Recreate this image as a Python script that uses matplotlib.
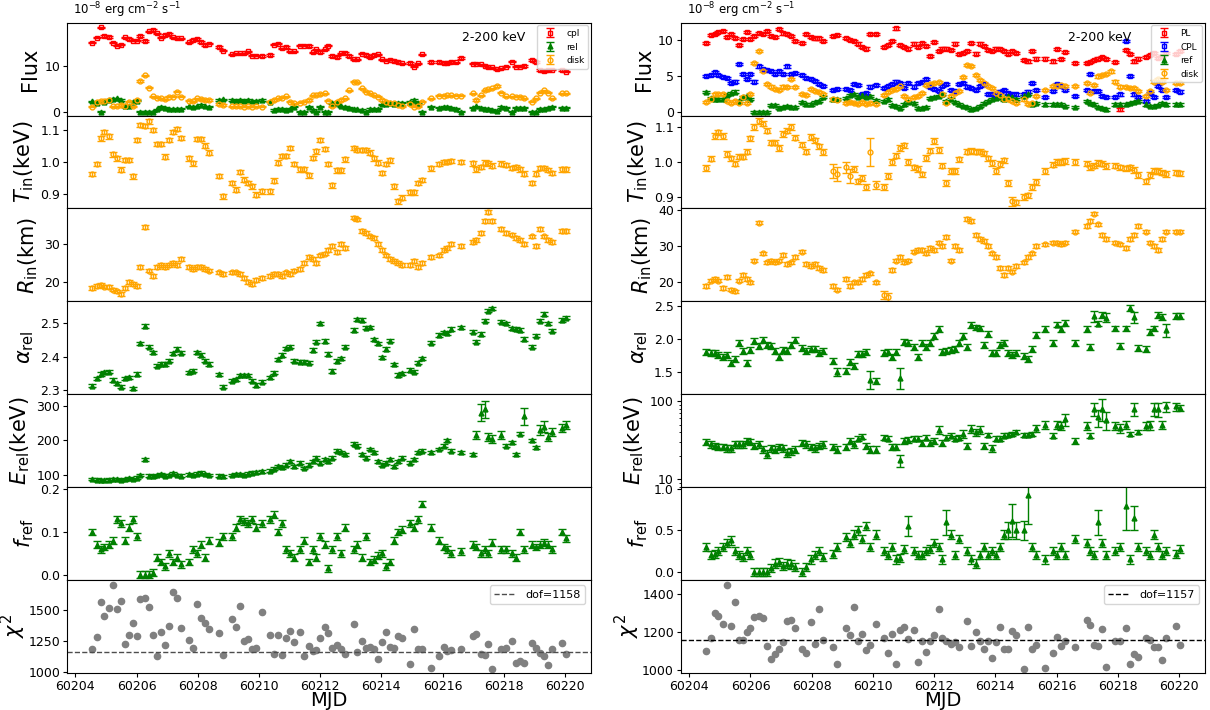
import numpy as np
import matplotlib
matplotlib.use("Agg")
import matplotlib.pyplot as plt
from matplotlib.ticker import FixedLocator, ScalarFormatter, FixedFormatter

nan = np.nan

mjd = [60204.55,60204.70,60204.83,60204.95,60205.09,60205.23,60205.35,60205.48,60205.61,60205.75,
       60205.88,60206.00,60206.13,60206.28,60206.40,60206.53,60206.67,60206.79,60206.93,60207.05,
       60207.19,60207.32,60207.45,60207.70,60207.83,60207.98,60208.11,60208.24,60208.37,60208.69,
       60208.84,60209.11,60209.24,60209.37,60209.51,60209.64,60209.77,60209.89,60210.09,60210.36,
       60210.48,60210.62,60210.76,60210.88,60211.02,60211.16,60211.35,60211.48,60211.62,60211.75,
       60211.88,60212.01,60212.15,60212.27,60212.40,60212.55,60212.69,60212.81,60212.95,60213.09,
       60213.21,60213.36,60213.49,60213.62,60213.75,60213.89,60214.01,60214.15,60214.28,60214.41,
       60214.55,60214.69,60214.94,60215.06,60215.20,60215.34,60215.63,60215.89,60216.03,60216.15,
       60216.29,60216.43,60216.60,60216.98,60217.10,60217.24,60217.37,60217.50,60217.63,60217.77,
       60217.92,60218.07,60218.26,60218.39,60218.52,60218.66,60218.91,60219.04,60219.18,60219.32,
       60219.44,60219.59,60219.89,60220.04]

# ---------------- left column (cpl + rel + disk) ----------------
flux_cpl = [15.1,16.2,18.5,16.6,16.4,15.1,14.5,14.7,16.3,15.9, 15.6,15.6,16.6,15.5,17.6,17.9,17.2,16.2,16.8,17.0,
            16.3,16.1,16.1,15.2,15.7,15.9,15.3,14.6,14.9,14.2, 13.4,12.6,12.8,12.8,12.8,13.2,12.3,12.3,12.2,12.4,
            14.7,14.9,13.9,14.2,13.2,13.2,14.5,14.5,14.4,13.0, 13.7,13.1,13.7,14.5,12.2,12.0,12.8,12.9,12.2,11.5,
            11.5,12.7,12.4,11.9,12.4,12.6,11.5,11.2,11.4,11.1, 10.9,10.6,10.7,9.9,10.6,12.6,10.9,10.9,10.7,10.7,
            10.9,10.8,11.8,10.5,10.5,10.4,10.1,9.7,9.7,9.3, 9.5,9.9,11.0,9.9,9.9,10.0,11.3,10.9,9.1,8.9,
            9.1,9.2,9.1,8.8]
flux_rel = [2.3,2.0,0.0,2.2,2.6,2.8,2.9,2.6,1.2,1.2, 2.2,2.4,0.0,0.0,0.0,0.0,0.5,1.1,0.9,0.7,
            0.5,0.7,0.7,1.2,1.1,1.2,1.5,1.2,1.1,2.6, 2.7,2.6,2.4,2.6,2.4,2.6,2.3,2.4,2.6,2.2,
            0.4,0.7,0.7,0.4,0.7,1.1,0.0,0.0,1.1,0.4, 0.0,1.1,0.0,0.0,1.8,1.8,1.2,1.1,0.9,0.7,
            0.5,0.4,0.0,0.6,0.5,0.7,1.6,1.6,1.8,1.7, 2.0,2.0,2.2,2.6,1.8,0.0,1.1,0.9,1.1,1.1,
            0.9,0.7,0.0,0.9,1.2,0.9,0.7,0.6,0.4,0.2, 1.0,0.9,0.0,0.9,0.9,0.9,0.0,0.0,0.7,0.7,
            0.9,1.1,0.9,0.9]
flux_disk = [1.1,2.2,2.4,2.4,2.6,1.2,1.2,1.5,1.2,2.2, 1.2,2.6,6.7,8.0,5.3,3.4,3.1,2.9,2.7,3.3,
             3.3,4.4,3.3,2.4,2.3,2.9,2.8,2.6,2.6,1.7, 1.5,1.2,1.2,1.2,1.1,1.2,1.1,1.2,1.1,2.2,
             2.6,2.9,3.1,3.4,2.2,1.8,2.0,2.2,2.6,3.6, 3.6,3.9,4.0,2.4,1.2,2.2,2.6,2.9,4.7,6.6,
             6.4,5.1,4.4,4.0,3.6,3.3,2.6,2.2,1.8,1.8, 1.5,1.2,1.7,1.1,1.2,2.2,2.9,3.5,3.5,3.6,
             3.6,3.5,3.5,4.0,2.6,3.6,4.7,4.9,5.1,5.6, 4.2,3.4,3.4,3.3,3.3,2.9,2.2,2.9,4.2,4.7,
             4.2,2.9,4.0,4.0]
tin_l = [0.963,0.993,1.074,1.093,1.080,1.024,1.011,0.976,1.006,1.006, 0.955,1.068,1.116,1.112,1.127,1.100,1.056,1.056,1.017,1.068,
         1.093,1.103,1.075,1.011,0.996,1.072,1.072,1.051,1.029,0.956, 0.893,0.935,0.914,0.968,0.945,0.935,0.924,0.898,0.908,0.908,
         0.942,0.998,1.019,1.019,1.043,0.993,0.977,0.977,0.958,1.012, 1.033,1.069,1.040,0.993,0.927,0.974,0.974,1.008,nan,1.043,
         1.037,1.037,1.037,1.029,1.011,0.998,0.965,0.993,1.005,0.924, 0.877,0.889,0.905,0.905,0.935,0.943,0.980,0.993,1.000,1.000,
         1.003,nan,1.000,0.996,0.977,0.985,0.998,0.996,0.989,nan, 0.995,0.991,0.982,0.985,0.977,0.964,0.935,0.964,0.982,0.982,
         0.975,0.966,0.977,0.977]
rin_l = [18.5,19.0,19.2,18.8,18.6,18.0,17.5,16.8,18.5,20.0, 19.5,19.0,24.0,34.5,23.0,21.5,24.0,24.5,24.0,24.5,
         25.0,24.5,26.0,24.0,23.5,24.0,24.0,23.5,23.0,22.5, 22.0,22.5,22.5,22.0,21.0,20.0,19.5,20.5,21.0,21.5,
         22.0,22.0,21.5,22.5,22.0,23.0,23.5,25.0,26.5,26.0, 25.0,27.0,27.5,28.5,29.5,28.0,30.0,29.0,nan,37.0,
         36.5,33.5,33.0,32.0,31.5,30.0,28.5,27.0,26.0,25.5, 25.0,24.5,24.5,25.5,24.0,25.0,26.5,27.0,28.5,29.0,
         30.0,nan,29.5,30.5,31.0,33.0,36.0,38.5,36.0,nan, 34.0,33.0,32.5,31.5,31.0,30.0,32.0,29.5,34.0,32.0,
         31.0,30.5,33.5,33.5]
alpha_l = [2.313,2.335,2.348,2.353,2.355,2.330,2.320,2.310,2.335,2.338, 2.305,2.348,2.440,2.492,2.430,2.413,2.373,2.378,2.378,2.388,
           2.410,2.423,2.412,2.353,2.358,2.413,2.405,2.388,2.378,2.347, 2.310,2.328,2.332,2.344,2.344,2.344,2.328,2.315,2.325,2.338,
           2.352,2.392,2.405,2.425,2.430,2.388,2.385,2.385,2.382,2.420, 2.445,2.500,2.447,2.408,2.357,2.387,2.395,2.430,nan,2.480,
           2.512,2.510,2.487,2.488,2.452,2.440,2.398,2.423,2.448,2.377, 2.345,2.350,2.360,2.355,2.382,2.395,2.442,2.465,2.473,2.470,
           2.483,nan,2.488,2.475,2.445,2.468,2.508,2.538,2.545,nan, 2.505,2.500,2.485,2.483,2.480,2.453,2.430,2.463,2.508,2.528,
           2.500,2.478,2.510,2.517]
erel_l = [88,86,85,84,86,87,88,85,87,90, 88,92,100,145,98,96,100,102,98,100,
          105,100,98,102,100,104,106,103,100,98, 96,100,103,102,100,104,106,108,110,112,
          118,125,122,130,140,125,135,120,130,140, 150,135,145,140,150,170,165,160,nan,190,
          185,160,150,175,165,140,130,135,145,125, 140,150,135,145,165,170,165,175,185,200,
          170,nan,165,160,215,280,290,210,205,nan, 215,185,195,160,220,270,200,180,230,240,
          210,225,235,245]
fref_l = [0.10,0.07,0.06,0.065,0.07,0.08,0.13,0.12,0.08,0.11, 0.13,0.09,0.0,0.0,0.0,0.005,0.04,0.03,0.02,0.05,
          0.03,0.04,0.025,0.03,0.06,0.05,0.07,0.04,0.08,0.075, 0.09,0.09,0.11,0.13,0.125,0.12,0.13,0.11,0.12,0.13,
          0.14,0.10,0.12,0.06,0.05,0.04,0.06,0.08,0.03,0.06, 0.04,0.09,0.07,0.015,0.06,0.09,0.05,0.11,nan,0.06,
          0.07,0.04,0.09,0.03,0.035,0.045,0.05,0.02,0.03,0.08, 0.10,0.105,0.12,0.11,0.13,0.165,0.11,0.08,0.065,0.06,
          0.05,nan,0.055,0.07,0.065,0.05,0.06,0.05,0.075,nan, 0.06,0.06,0.05,0.04,0.10,0.06,0.07,0.065,0.07,0.075,
          0.07,0.06,0.10,0.085]
chi2_l = [1189,1279,1564,1452,1513,1700,1505,1575,1226,1298, 1394,1287,1591,1598,1521,1298,1128,1322,1215,1375,
          1644,1593,1359,1255,1192,1545,1439,1394,1351,1317, 1136,1426,1364,1529,1250,1266,1186,1192,1484,1298,
          1144,1295,1138,1274,1332,1245,1322,1130,1207,1168, 1181,1274,1367,1317,1194,1218,1186,1146,nan,1388,
          1165,1247,1192,1205,1189,1106,1245,1324,1205,1197, 1293,1274,1069,1346,1189,1186,1032,1130,1202,1168,
          1178,nan,1189,1293,1306,1144,1138,1223,1027,nan, 1186,1194,1247,1072,1093,1074,1238,1193,1153,1126,
          1056,1185,1238,1142]
dof_l = 1158

# ---------------- right column (PL + CPL + ref + disk) ----------------
flux_pl = [9.6,10.7,10.8,11.1,11.2,10.4,10.8,10.3,9.3,10.1, 11.1,10.1,10.6,11.0,10.8,11.3,10.5,10.4,11.5,10.9,
           10.8,10.5,9.8,9.6,10.8,10.4,10.2,10.2,9.9,10.5, 10.7,10.3,10.0,9.8,9.5,9.0,8.8,10.8,10.8,9.0,
           9.3,9.8,11.6,9.3,9.0,8.8,9.5,9.0,9.6,9.2, 7.8,9.7,8.5,8.8,8.8,8.6,9.5,8.0,8.2,8.4,
           9.6,8.1,9.5,9.2,8.6,8.5,8.8,8.7,8.5,8.0, 8.4,8.2,7.2,7.0,8.4,7.4,7.4,7.0,8.7,7.3,
           8.3,nan,6.8,6.8,6.9,7.2,7.4,7.6,7.3,nan, 6.9,0.3,8.6,8.0,7.0,7.4,7.6,7.9,8.2,7.5,
           7.8,8.2,8.0,8.5]
flux_cpl_r = [5.0,5.1,5.5,5.1,4.8,4.7,4.0,4.2,6.6,5.3, 4.6,5.3,4.2,6.3,5.9,5.8,5.7,5.3,5.7,5.3,
              6.3,5.3,5.4,5.1,4.7,4.5,4.3,3.8,3.6,3.0, 3.1,3.2,3.0,3.8,3.7,2.5,2.6,3.5,3.7,3.3,
              3.6,3.9,4.2,4.0,3.3,4.0,3.5,4.0,4.1,4.5, 3.4,3.2,2.9,3.6,3.8,3.0,2.9,3.9,4.0,3.5,
              3.3,3.0,3.6,3.8,2.5,2.5,2.2,2.8,3.0,2.6, 2.5,2.4,2.5,2.8,4.0,3.0,2.1,2.9,3.9,3.6,
              3.0,nan,2.2,3.0,5.3,2.9,2.9,2.2,2.1,nan, 2.1,2.4,9.8,5.0,2.4,2.0,1.5,2.6,2.0,3.6,
              3.0,2.0,3.0,2.8]
flux_ref = [2.7,1.9,1.7,1.8,1.8,2.3,2.6,2.8,1.5,2.0, 2.2,1.8,0.0,0.0,0.0,0.0,0.9,0.9,0.5,0.7,
            0.8,0.7,0.7,1.4,1.0,1.0,1.3,1.5,2.0,1.7, 1.8,1.9,2.3,2.5,2.1,2.3,2.0,2.2,1.6,1.5,
            1.7,0.9,0.8,0.5,1.0,1.3,1.2,0.5,0.5,0.6, 1.9,2.0,2.2,2.5,1.5,1.7,1.4,1.0,0.8,0.6,
            0.3,0.5,0.8,1.2,1.5,1.8,1.9,2.0,1.7,2.2, 2.0,1.8,2.2,2.5,1.0,1.2,1.0,1.0,1.0,1.0,
            0.8,nan,0.7,1.5,1.2,1.0,0.7,0.5,0.3,nan, 1.0,1.0,1.0,1.2,1.3,1.5,1.0,0.8,0.8,0.9,
            1.2,1.0,1.0,1.0]
flux_disk_r = [1.3,1.7,2.4,2.5,2.5,1.5,1.2,1.5,1.2,2.0, 1.2,2.5,6.8,8.4,5.7,3.8,3.5,3.2,3.0,3.5,
               3.4,4.6,3.4,2.5,2.3,3.2,2.9,2.7,2.5,1.7, 1.6,1.2,1.3,1.2,1.1,1.3,1.1,1.2,1.1,2.3,
               2.7,3.0,3.2,3.6,2.2,1.8,2.0,2.2,2.6,3.7, 3.8,4.0,4.1,2.4,1.2,2.2,2.6,2.9,4.8,6.5,
               6.4,5.1,4.4,4.0,3.6,3.3,2.6,2.3,1.8,1.8, 1.5,1.2,1.7,1.1,1.2,2.2,3.0,3.6,3.6,3.7,
               3.6,nan,3.6,4.0,2.6,3.7,4.9,5.1,5.3,5.6, 4.2,3.5,3.4,3.3,3.3,2.9,2.2,2.9,4.2,4.6,
               4.2,3.0,4.0,4.0]
tin_r = [0.983,1.010,1.074,1.085,1.075,1.024,1.011,0.996,1.016,1.016, 1.030,1.068,1.100,1.118,1.110,1.090,1.056,1.056,1.040,1.080,
         1.090,1.100,1.070,1.050,1.030,1.072,1.062,1.045,1.029,0.976, 0.965,0.985,0.960,0.980,0.945,0.955,0.930,1.030,0.935,0.930,
         0.960,1.000,1.019,1.040,1.048,1.000,0.985,0.980,0.965,1.012, 1.033,1.060,1.035,0.990,0.940,0.975,0.975,1.008,nan,1.030,
         1.032,1.030,1.030,1.025,1.011,0.998,0.975,0.995,1.005,0.940, 0.888,0.885,0.900,0.905,0.930,0.943,0.975,0.993,1.000,1.000,
         1.003,nan,1.000,0.996,0.985,0.990,0.998,0.996,0.989,nan, 0.990,0.985,0.982,0.985,0.977,0.964,0.945,0.964,0.975,0.975,
         0.970,0.966,0.970,0.968]
rin_r = [19.0,20.5,21.0,20.5,18.5,21.5,18.0,17.5,20.5,22.0, 21.0,20.0,26.0,36.5,28.0,25.5,26.0,25.5,26.0,27.5,
         25.0,25.5,27.0,28.5,25.0,24.5,25.0,24.0,23.5,19.0, 18.0,21.0,19.0,20.0,20.0,21.0,22.0,22.5,20.0,16.5,
         16.0,23.5,26.0,27.0,25.5,26.0,28.5,29.0,29.0,28.0, 29.5,29.0,31.0,30.0,32.5,26.0,30.0,29.0,nan,37.5,
         37.0,33.0,32.0,31.5,30.0,28.0,27.0,24.0,22.0,24.0, 23.0,24.5,25.5,27.0,28.0,30.0,30.5,31.0,31.0,30.5,
         31.0,nan,34.0,35.5,37.0,39.0,36.0,33.0,32.0,nan, 31.0,30.5,29.5,32.0,33.0,35.5,34.0,31.0,30.0,29.0,
         32.0,34.0,34.0,34.0]
alpha_r = [1.80,1.795,1.795,1.76,1.735,1.76,1.645,1.695,1.935,1.82, 1.635,1.835,1.975,1.895,1.985,1.91,1.895,1.825,1.735,1.835,
           1.82,1.91,1.985,1.87,1.82,1.85,1.845,1.795,1.82,1.675, 1.51,1.52,1.66,1.60,1.77,1.775,1.80,1.385,1.375,1.785,
           1.81,1.725,1.80,1.41,1.96,1.935,1.885,1.735,1.945,1.885, 1.935,2.045,2.145,1.81,1.825,1.835,1.845,1.935,2.045,1.875,
           2.21,2.175,2.16,1.91,2.075,1.795,1.795,1.91,1.935,1.785, 1.76,1.785,1.745,1.695,1.845,2.055,2.15,1.945,2.22,2.15,
           2.245,nan,1.935,2.15,1.885,2.345,2.235,2.36,2.325,nan, 2.16,1.90,2.16,2.47,2.33,1.87,1.845,2.11,2.16,2.36,
           2.335,2.135,2.345,2.345]
erel_r = [30,28,27,26,26,25,25,28,28,28, 31,30,27,28,24.5,21,25,24,26,25,
          22,23,24,29,28,26,25,27,28,26, 24,26,31,28,33,35,27,24,24,34,
          33,26,26,17.5,31,32,33,33,29,34, 29,31,43,29,34,36,33,34,38,27,
          44,40,43,27,37,25,33,33,36,37, 38,40,37,37,38,45,50,36,50,48,
          58,nan,31,48,36,80,62,80,57,nan, 48,45,50,38,80,40,48,49,80,78,
          50,85,85,82]
fref_r = [0.30,0.20,0.22,0.25,0.30,0.35,0.38,0.25,0.20,0.18, 0.25,0.20,0.0,0.0,0.0,0.0,0.05,0.10,0.12,0.07,
          0.10,0.09,0.06,0.0,0.06,0.15,0.20,0.25,0.18,0.22, 0.30,0.42,0.35,0.45,0.50,0.40,0.55,0.30,0.45,0.25,
          0.20,0.30,0.15,0.17,0.28,0.55,0.25,0.20,0.20,0.25, 0.28,0.35,0.30,0.15,0.60,0.45,0.20,0.40,nan,0.25,
          0.15,0.10,0.20,0.30,0.20,0.25,0.20,0.30,0.45,0.50, 0.62,0.50,0.50,0.93,0.30,0.20,0.15,0.25,0.20,0.30,
          0.20,nan,0.40,0.35,0.25,0.20,0.60,0.35,0.20,nan, 0.25,0.30,0.80,0.15,0.65,0.30,0.25,0.20,0.45,0.30,
          0.20,0.25,0.22,0.28]
chi2_r = [1100,1168,1304,1285,1243,1449,1231,1360,1159,1159, 1201,1222,1281,1288,1274,1127,1058,1086,1114,1150,
          1262,1267,1222,1114,1093,1252,1138,1321,1159,1121, 1031,1224,1184,1331,1155,1190,1107,1133,1241,1169,
          1090,1191,1033,1210,1228,1162,1214,1043,1152,1095, 1155,1186,1321,1169,1153,1138,1148,1121,nan,1257,
          1126,1200,1155,1114,1155,1066,1147,1228,1112,1114, 1207,1184,1009,1226,1114,1134,1010,1090,1176,1129,
          1153,nan,1121,1267,1236,1133,1126,1215,1019,nan, 1155,1153,1224,1034,1088,1071,1169,1159,1124,1122,
          1053,1172,1233,1134]
dof_r = 1157

# 1-sigma uncertainties: typical value per series, plus the larger ones (index -> error)
err_flux = 0.15
err_tin_l, err_tin_r = 0.007, 0.008
err_tin_r_big = {29: 0.02, 30: 0.02, 31: 0.015, 32: 0.02, 37: 0.04, 38: 0.012, 70: 0.012}
err_rin = 0.5
err_rin_r_big = {39: 1.2, 40: 1.0}
err_alpha_l = 0.005
err_alpha_r = 0.045
err_alpha_r_big = {30: 0.06, 37: 0.13, 43: 0.16, 85: 0.08, 88: 0.07, 94: 0.08, 101: 0.1}
err_erel_l = 4.0
err_erel_l_big = {84: 12, 85: 25, 86: 25, 87: 12, 88: 12, 90: 12, 95: 25, 98: 15, 99: 15, 100: 12,
                  101: 12, 102: 12, 103: 12}
err_erel_r = 2.5
err_erel_r_big = {43: 3, 52: 5, 58: 4, 60: 5, 61: 4, 62: 5, 75: 5, 76: 6, 78: 6, 79: 6, 80: 10, 83: 6,
                  85: 15, 86: 15, 87: 25, 88: 15, 90: 6, 91: 6, 92: 6, 94: 15, 96: 6, 97: 6, 98: 15,
                  99: 15, 100: 6, 101: 12, 102: 10, 103: 8}
err_fref_l = 0.008
err_fref_r = 0.05
err_fref_r_big = {45: 0.12, 54: 0.15, 69: 0.1, 70: 0.2, 71: 0.1, 72: 0.12, 73: 0.35, 86: 0.15,
                  92: 0.3, 94: 0.15}

x = np.array(mjd)


def errs(base, big=None):
    e = np.full(len(x), base, dtype=float)
    for i, v in (big or {}).items():
        e[i] = v
    return e


fig = plt.figure(figsize=(12.1, 7.1), dpi=100)
lefts = [0.0554, 0.5628]
W = 0.4328
top, bottom = 0.968, 0.0525
h = (top - bottom) / 7
axes = [[fig.add_axes([l, top - (r + 1) * h, W, h]) for r in range(7)] for l in lefts]

kw = dict(capsize=3, elinewidth=1, capthick=1, ms=3.5, lw=0)


def eb(ax, y, err, color, marker, label=None, hollow=False):
    y = np.array(y, dtype=float)
    e = np.full_like(y, err) if np.isscalar(err) else np.array(err, dtype=float)
    ax.errorbar(x, y, yerr=e, fmt=marker, color=color, mec=color,
                mfc='none' if hollow else color, label=label, **kw)


def style(ax, ylim, yticks, ylabel, log=False, pad=3):
    if log:
        ax.set_yscale('log')
    ax.set_ylim(*ylim)
    ax.set_yticks(yticks)
    ax.yaxis.set_major_formatter(ScalarFormatter(useOffset=False))
    if log:
        ax.yaxis.set_major_formatter(FixedFormatter([str(t) for t in yticks]))
        ax.yaxis.set_major_locator(FixedLocator(yticks))
    ax.set_ylabel(ylabel, fontsize=15, labelpad=pad)
    ax.tick_params(labelsize=9, length=3, pad=2)
    ax.tick_params(which='minor', length=1.8)
    ax.set_xlim(60203.73, 60220.84)
    ax.set_xticks(np.arange(60204, 60221, 2))
    ax.xaxis.set_major_formatter(ScalarFormatter(useOffset=False))


unit = r'10$^{-8}$ erg cm$^{-2}$ s$^{-1}$'

# ---- left column ----
a = axes[0]
eb(a[0], flux_cpl, err_flux, 'red', 's', 'cpl', hollow=True)
eb(a[0], flux_rel, err_flux, 'green', '^', 'rel')
eb(a[0], flux_disk, err_flux, 'orange', 'o', 'disk', hollow=True)
style(a[0], (-0.85, 19.5), [0, 10], 'Flux')
a[0].legend(loc='upper right', fontsize=6.5, borderaxespad=0.3)
a[0].text(0.815, 0.84, '2-200 keV', transform=a[0].transAxes, fontsize=9, ha='center', va='center')
a[0].text(0.012, 1.03, unit, transform=a[0].transAxes, fontsize=8.5, ha='left', va='bottom')
eb(a[1], tin_l, err_tin_l, 'orange', 'o', hollow=True)
style(a[1], (0.855, 1.145), [0.9, 1.0, 1.1], r'$T_{\rm in}$(keV)')
eb(a[2], rin_l, err_rin, 'orange', 'o', hollow=True)
style(a[2], (14.9, 39.4), [20, 30], r'$R_{\rm in}$(km)')
eb(a[3], alpha_l, err_alpha_l, 'green', '^')
style(a[3], (2.288, 2.566), [2.3, 2.4, 2.5], r'$\alpha_{\rm rel}$')
eb(a[4], erel_l, errs(err_erel_l, err_erel_l_big), 'green', '^')
style(a[4], (65, 334), [100, 200, 300], r'$E_{\rm rel}$(keV)')
eb(a[5], fref_l, err_fref_l, 'green', '^')
style(a[5], (-0.0116, 0.2047), [0.0, 0.1, 0.2], r'$f_{\rm ref}$')
a[6].plot(x, chi2_l, 'o', color='gray', ms=4.5)
a[6].axhline(dof_l, color='0.3', ls='--', lw=1, label='dof=%d' % dof_l)
style(a[6], (995, 1743), [1000, 1250, 1500], r'$\chi^2$', pad=0)
a[6].legend(loc='upper right', fontsize=8)
a[6].set_xlabel('MJD', fontsize=14, labelpad=-1)

# ---- right column ----
b = axes[1]
eb(b[0], flux_pl, err_flux, 'red', 's', 'PL', hollow=True)
eb(b[0], flux_cpl_r, err_flux, 'blue', 's', 'CPL', hollow=True)
eb(b[0], flux_ref, err_flux, 'green', '^', 'ref')
eb(b[0], flux_disk_r, err_flux, 'orange', 'o', 'disk', hollow=True)
style(b[0], (-0.55, 12.4), [0, 5, 10], 'Flux')
b[0].legend(loc='upper right', fontsize=6.5, borderaxespad=0.3)
b[0].text(0.8, 0.84, '2-200 keV', transform=b[0].transAxes, fontsize=9, ha='center', va='center')
b[0].text(0.012, 1.03, unit, transform=b[0].transAxes, fontsize=8.5, ha='left', va='bottom')
eb(b[1], tin_r, errs(err_tin_r, err_tin_r_big), 'orange', 'o', hollow=True)
style(b[1], (0.868, 1.133), [0.9, 1.0, 1.1], r'$T_{\rm in}$(keV)')
eb(b[2], rin_r, errs(err_rin, err_rin_r_big), 'orange', 'o', hollow=True)
style(b[2], (14.8, 40.4), [20, 30, 40], r'$R_{\rm in}$(km)')
eb(b[3], alpha_r, errs(err_alpha_r, err_alpha_r_big), 'green', '^')
style(b[3], (1.17, 2.57), [1.5, 2.0, 2.5], r'$\alpha_{\rm rel}$')
eb(b[4], erel_r, errs(err_erel_r, err_erel_r_big), 'green', '^')
style(b[4], (8, 122), [10, 100], r'$E_{\rm rel}$(keV)', log=True)
eb(b[5], fref_r, errs(err_fref_r, err_fref_r_big), 'green', '^')
style(b[5], (-0.096, 1.024), [0.0, 0.5, 1.0], r'$f_{\rm ref}$')
b[6].plot(x, chi2_r, 'o', color='gray', ms=4.5)
b[6].axhline(dof_r, color='k', ls='--', lw=1, label='dof=%d' % dof_r)
style(b[6], (987, 1476), [1000, 1200, 1400], r'$\chi^2$', pad=0)
b[6].legend(loc='upper right', fontsize=8)
b[6].set_xlabel('MJD', fontsize=14, labelpad=-1)

for axs in axes:
    for ax in axs[:6]:
        ax.tick_params(labelbottom=False)

fig.savefig('out.png', dpi=100)
